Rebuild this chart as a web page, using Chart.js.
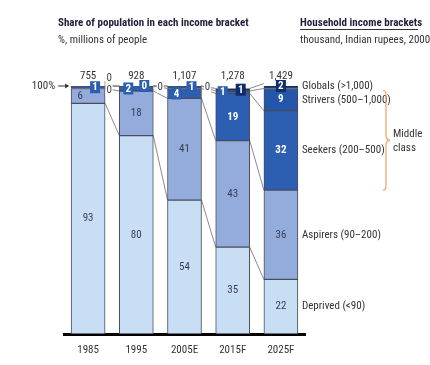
<!DOCTYPE html>
<html>
<head>
<meta charset="utf-8">
<script src="https://cdn.jsdelivr.net/npm/chart.js@4.4.1/dist/chart.umd.min.js"></script>
<style>
  body { margin: 0; background: #fff; }
  #wrap { position: relative; width: 430px; height: 365px; font-family: "Roboto Condensed", Roboto, sans-serif; font-stretch: condensed; color: #333; }
  .t { position: absolute; white-space: nowrap; font-size: 11px; }
  .b { font-weight: bold; color: #1f1f3a; }
</style>
</head>
<body>
<div id="wrap">
  <canvas id="incomeChart" width="430" height="365"></canvas>
  <div class="t b" style="left:58px; top:16px;">Share of population in each income bracket</div>
  <div class="t" style="left:58px; top:33px;">%, millions of people</div>
  <div class="t b" style="left:300px; top:16px; width:118px; border-bottom:1px solid #333;">Household income brackets</div>
  <div class="t" style="left:300px; top:33px;">thousand, Indian rupees, 2000</div>
</div>
<script>
// data
const years = ['1985', '1995', '2005E', '2015F', '2025F'];
const totals = ['755', '928', '1,107', '1,278', '1,429'];
const deprived = [93, 80, 54, 35, 22];
const aspirers = [6, 18, 41, 43, 36];
const seekers = [1, 2, 4, 19, 32];
const strivers = [0, 0, 1, 1, 9];
const globals = [0, 0, 0, 1, 2];
const bracketNames = ['Deprived (<90)', 'Aspirers (90\u2013200)', 'Seekers (200\u2013500)', 'Strivers (500\u20131,000)', 'Globals (>1,000)'];

const colors = ['#c7def4', '#93acdc', '#2c5fb2', '#2356a8', '#0f2c6c'];
const darkText = [false, false, true, true, true];

// where small values get their label: [dataset, bar, dx, dy, boxed]
const smallLabels = [
  [2, 0, 7, 0, true], [3, 0, 21, -8, false], [4, 0, 21, 4, false],
  [2, 1, -8, 0, true], [3, 1, 8, 0, true], [4, 1, 24, 1, false],
  [2, 2, -8, 0, true], [3, 2, 7, 0, true], [4, 2, 23, 1, false],
  [3, 3, -10, 0, true], [4, 3, 8, 0, true],
  [4, 4, 0, 0, true]
];

const series = [deprived, aspirers, seekers, strivers, globals];
const FONT = '"Roboto Condensed", Roboto, sans-serif';
const font = (size, bold) => 'condensed ' + (bold ? 'bold ' : '') + size + 'px ' + FONT;

const cumulative = (i, k) => {
  let s = 0;
  for (let d = 0; d <= k; d++) s += series[d][i];
  return s;
};

const decorations = {
  id: 'decorations',
  beforeDatasetsDraw(chart) {
    const ctx = chart.ctx;
    const y = chart.scales.y;
    const bars = chart.getDatasetMeta(0).data;
    ctx.save();
    ctx.strokeStyle = '#8a8a8a';
    ctx.lineWidth = 1;
    for (let i = 0; i < bars.length - 1; i++) {
      const x1 = bars[i].x + bars[i].width / 2;
      const x2 = bars[i + 1].x - bars[i + 1].width / 2;
      for (let k = 0; k < series.length; k++) {
        ctx.beginPath();
        ctx.moveTo(x1, y.getPixelForValue(cumulative(i, k)));
        ctx.lineTo(x2, y.getPixelForValue(cumulative(i + 1, k)));
        ctx.stroke();
      }
    }
    ctx.restore();
  },
  afterDatasetsDraw(chart) {
    const ctx = chart.ctx;
    const y = chart.scales.y;
    const bars = chart.getDatasetMeta(0).data;
    ctx.save();
    ctx.textAlign = 'center';
    ctx.textBaseline = 'middle';

    // in-bar labels
    series.forEach((vals, d) => {
      vals.forEach((v, i) => {
        if (v < 5) return;
        const cy = y.getPixelForValue(cumulative(i, d) - v / 2);
        const cx = bars[i].x + (i === 0 && d === 1 ? -8 : 0);
        ctx.fillStyle = darkText[d] ? '#ffffff' : '#3a3d58';
        ctx.font = font(11, darkText[d]);
        ctx.fillText(String(v), cx, cy);
      });
    });

    // small values
    smallLabels.forEach(([d, i, dx, dy, boxed]) => {
      const v = series[d][i];
      const cy = y.getPixelForValue(cumulative(i, d) - v / 2) + dy;
      const cx = bars[i].x + dx;
      if (boxed) {
        ctx.fillStyle = d === 4 ? colors[4] : colors[2];
        ctx.fillRect(cx - 5, cy - 6, 10, 12);
        ctx.fillStyle = '#fff';
        ctx.font = font(11, true);
        ctx.fillText(String(v), cx, cy + 0.5);
      } else {
        const ex = bars[i].x + bars[i].width / 2;
        const ey = y.getPixelForValue(100);
        ctx.strokeStyle = '#8a8a8a';
        ctx.beginPath();
        ctx.moveTo(ex, ey);
        ctx.lineTo(cx - 4, cy + (dy < 0 ? 3 : 0));
        ctx.stroke();
        ctx.fillStyle = '#fff';
        ctx.fillRect(cx - 3.5, cy - 6, 7, 12);
        ctx.fillStyle = '#444';
        ctx.font = font(11, false);
        ctx.fillText(String(v), cx, cy);
      }
    });

    // totals above bars
    ctx.fillStyle = '#333';
    ctx.font = font(11, false);
    bars.forEach((b, i) => ctx.fillText(totals[i], b.x, y.getPixelForValue(100) - 10));

    // 100% marker
    const top = y.getPixelForValue(100);
    const left = bars[0].x - bars[0].width / 2;
    ctx.textAlign = 'right';
    ctx.fillText('100%', left - 16, top);
    ctx.strokeStyle = '#333';
    ctx.beginPath();
    ctx.moveTo(left - 13, top);
    ctx.lineTo(left - 3, top);
    ctx.stroke();
    ctx.beginPath();
    ctx.moveTo(left - 6, top - 2.5);
    ctx.lineTo(left - 2, top);
    ctx.lineTo(left - 6, top + 2.5);
    ctx.fillStyle = '#333';
    ctx.fill();

    // bracket names beside the last bar
    const last = bars.length - 1;
    const lx = bars[last].x + bars[last].width / 2 + 4;
    ctx.textAlign = 'left';
    ctx.fillStyle = '#333';
    bracketNames.forEach((name, d) => {
      let cy = y.getPixelForValue(cumulative(last, d) - series[d][last] / 2);
      if (d === 4) cy = top;
      if (d === 3) cy += 1;
      ctx.fillText(name, lx, cy);
    });

    // middle class brace
    const b1 = y.getPixelForValue(cumulative(last, 3)) + 2;
    const b2 = y.getPixelForValue(cumulative(last, 1));
    const mid = (b1 + b2) / 2;
    const bx = 386;
    ctx.strokeStyle = '#f0a060';
    ctx.lineWidth = 1.2;
    ctx.beginPath();
    ctx.moveTo(bx - 3, b1);
    ctx.quadraticCurveTo(bx, b1, bx, b1 + 5);
    ctx.lineTo(bx, mid - 5);
    ctx.quadraticCurveTo(bx, mid, bx + 4, mid);
    ctx.quadraticCurveTo(bx, mid, bx, mid + 5);
    ctx.lineTo(bx, b2 - 5);
    ctx.quadraticCurveTo(bx, b2, bx - 3, b2);
    ctx.stroke();
    ctx.fillStyle = '#333';
    ctx.fillText('Middle', bx + 7, mid - 6);
    ctx.fillText('class', bx + 7, mid + 8);

    ctx.restore();
  }
};

new Chart(document.getElementById('incomeChart'), {
  type: 'bar',
  data: {
    labels: years,
    datasets: series.map((vals, d) => ({
      label: bracketNames[d],
      data: vals,
      backgroundColor: colors[d],
      borderColor: '#4b4b5c',
      borderWidth: 1,
      borderSkipped: false,
      barThickness: 34
    }))
  },
  options: {
    responsive: false,
    animation: false,
    layout: { padding: { left: 64, right: 125, top: 86, bottom: 0 } },
    plugins: { legend: { display: false }, tooltip: { enabled: false } },
    scales: {
      x: {
        stacked: true,
        grid: { display: false, drawTicks: false },
        border: { display: true, color: '#000', width: 3 },
        ticks: { color: '#333', padding: 10, font: { family: FONT, size: 11, style: 'condensed' } },
        afterFit: (scale) => { scale.height = 31; }
      },
      y: { stacked: true, display: false, min: 0, max: 100 }
    }
  },
  plugins: [decorations]
});
</script>
</body>
</html>
